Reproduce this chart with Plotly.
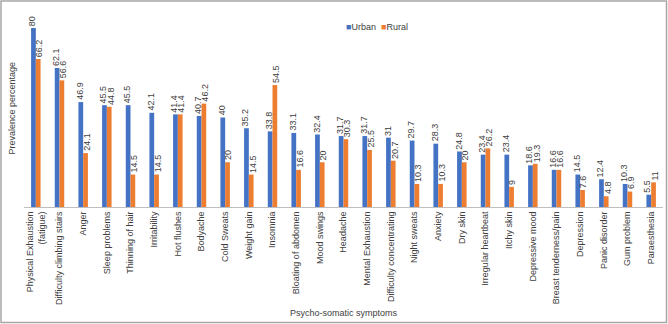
import plotly.graph_objects as go

categories = [
    "Physical Exhaustion<br>(fatigue)", "Difficulty climbing stairs", "Anger", "Sleep problems",
    "Thinning of hair", "Irritability", "Hot flushes", "Bodyache", "Cold Sweats", "Weight gain",
    "Insomnia", "Bloating of abdomen", "Mood swings", "Headache", "Mental Exhaustion",
    "Difficulty concentrating", "Night sweats", "Anxiety", "Dry skin", "Irregular heartbeat",
    "Itchy skin", "Depressive mood", "Breast tenderness/pain", "Depression", "Panic disorder",
    "Gum problem", "Paraesthesia",
]
urban = [80, 62.1, 46.9, 45.5, 45.5, 42.1, 41.4, 40.7, 40, 35.2, 33.8, 33.1, 32.4, 31.7, 31.7,
         31, 29.7, 28.3, 24.8, 23.4, 23.4, 18.6, 16.6, 14.5, 12.4, 10.3, 5.5]
rural = [66.2, 56.6, 24.1, 44.8, 14.5, 14.5, 41.4, 46.2, 20, 14.5, 54.5, 16.6, 20, 30.3, 25.5,
         20.7, 10.3, 10.3, 20, 26.2, 9, 19.3, 16.6, 7.6, 4.8, 6.9, 11]
series_names = ["Urban", "Rural"]
series_colors = ["#4472C4", "#ED7D31"]

def fmt(v):
    return "%g" % v

W, H = 668, 324
L, R, T, B = 24, 5, 10, 117
pw = W - L - R
ph = H - T - B
TXT = "#404040"

fig = go.Figure()
annotations = []
for (name, vals, col), shift in zip(zip(series_names, [urban, rural], series_colors), [-3.5, 3.5]):
    fig.add_trace(go.Bar(
        x=categories, y=vals, name=name, marker_color=col, marker_line_width=0,
    ))
    for c, v in zip(categories, vals):
        annotations.append(dict(
            x=c, y=v, xref="x", yref="y", text=fmt(v), textangle=-90, showarrow=False,
            xanchor="center", yanchor="bottom", xshift=shift, yshift=1, borderpad=0,
            font=dict(size=9, color=TXT),
        ))

legend_text = "  ".join(
    "<span style='color:%s'>■</span>%s" % (c, n) for n, c in zip(series_names, series_colors)
)
annotations.append(dict(text=legend_text, xref="paper", yref="paper", x=(344 - L) / pw,
                        y=(H - B - 27) / ph, xanchor="left", yanchor="middle", showarrow=False,
                        font=dict(size=9, color=TXT)))
annotations.append(dict(text="Prevalence percentage", xref="paper", yref="paper",
                        x=-(L - 11) / pw, y=0.5, xanchor="center", yanchor="middle",
                        textangle=-90, showarrow=False, font=dict(size=9, color=TXT)))

fig.update_layout(
    width=W, height=H, margin=dict(l=L, r=R, t=T, b=B, autoexpand=False),
    plot_bgcolor="white", paper_bgcolor="white",
    font=dict(family="Liberation Sans, Arial, sans-serif", size=9, color=TXT),
    barmode="group", bargap=0.6, bargroupgap=0,
    showlegend=False,
    xaxis=dict(tickangle=-90, showline=True, linecolor="#BFBFBF", linewidth=1, ticks="",
               tickfont=dict(size=9, color=TXT), showgrid=False, automargin=False,
               title=dict(text="Psycho-somatic symptoms", font=dict(size=9, color=TXT), standoff=5)),
    yaxis=dict(range=[0, ph / 2.2375], showticklabels=False, showgrid=False, zeroline=False,
               showline=False, ticks="", automargin=False),
    annotations=annotations,
)
fig.add_shape(type="rect", xref="paper", yref="paper",
              x0=-(L - 1) / pw, x1=1 + (R - 1.5) / pw, y0=-(B - 1.5) / ph, y1=1 + (T - 1) / ph,
              line=dict(color="#A6A6A6", width=1.5), fillcolor="rgba(0,0,0,0)", layer="below")
fig.write_html("out.html", config={"displayModeBar": False},
               post_script="document.body.style.margin='0';")
